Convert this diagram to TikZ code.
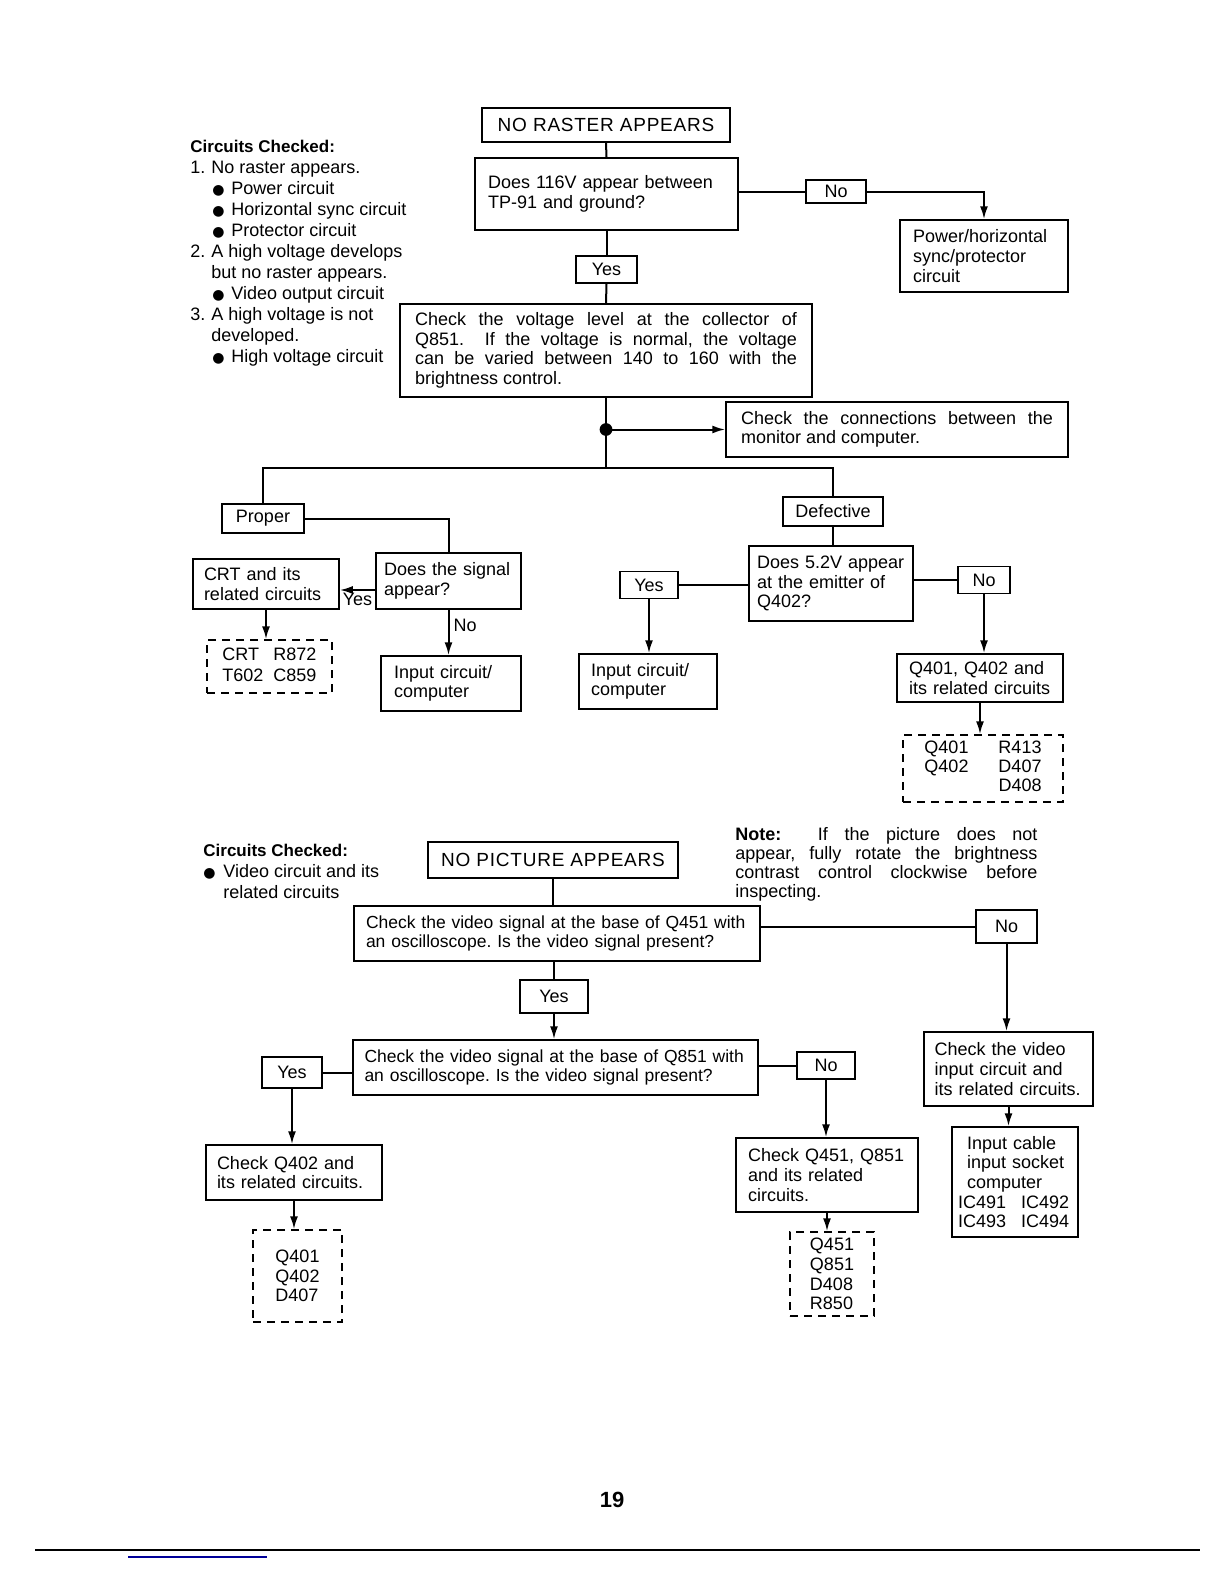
\documentclass[tikz,border=0pt]{standalone}
\usepackage{fontspec}
\setmainfont{Liberation Sans}
\newfontfamily\symfont{DejaVu Sans}
\usetikzlibrary{arrows.meta, calc}

\newcommand{\boxfont}{\fontsize{9}{9.8}\selectfont\frenchspacing\hyphenpenalty=10000\exhyphenpenalty=10000}
\newcommand{\smallboxfont}{\fontsize{8.75}{9.8}\selectfont\frenchspacing\hyphenpenalty=10000}
\newcommand{\headfont}{\fontsize{9.5}{11}\selectfont\addfontfeature{LetterSpace=4}}
\newcommand{\bulletmark}{{\symfont\fontsize{7}{7}\selectfont ●}}

\begin{document}
\begin{tikzpicture}[
    x=1pt, y=-1pt,
    box/.style={rectangle, draw, line width=0.75pt, inner xsep=6.5pt, inner ysep=2pt, align=left, font=\boxfont},
    tag/.style={rectangle, draw, line width=0.75pt, inner sep=0pt, font=\boxfont},
    headbox/.style={rectangle, draw, line width=0.75pt, inner sep=0pt, font=\headfont},
    parts/.style={rectangle, draw, dashed, dash pattern=on 4pt off 3pt, line width=0.7pt, inner sep=0pt, font=\boxfont},
    notes/.style={align=left, inner sep=0pt, font=\fontsize{9}{10.5}\selectfont},
    line/.style={draw, line width=1pt, -{Latex[length=6.5pt, width=4pt]}},
    wire/.style={draw, line width=1pt}
]
\useasboundingbox (0,0) rectangle (612,792);

% Circuits checked (no raster)
\node[notes, anchor=north west] (checked_raster) at (95,70) {%
{\bfseries\fontsize{8.5}{10.5}\selectfont Circuits Checked:}\\
\makebox[10.5pt][l]{1.}No raster appears.\\
\hspace*{11pt}\makebox[9.5pt][l]{\bulletmark}Power circuit\\
\hspace*{11pt}\makebox[9.5pt][l]{\bulletmark}Horizontal sync circuit\\
\hspace*{11pt}\makebox[9.5pt][l]{\bulletmark}Protector circuit\\
\makebox[10.5pt][l]{2.}A high voltage develops\\
\hspace*{10.5pt}but no raster appears.\\
\hspace*{11pt}\makebox[9.5pt][l]{\bulletmark}Video output circuit\\
\makebox[10.5pt][l]{3.}A high voltage is not\\
\hspace*{10.5pt}developed.\\
\hspace*{11pt}\makebox[9.5pt][l]{\bulletmark}High voltage circuit};

% Nodes for No Raster
\node[headbox, minimum width=124pt, minimum height=17pt] (no_raster) at (303,62.5) {NO RASTER APPEARS};
\node[box, text width=118.5pt, minimum height=36pt] (check_116v) at (303.25,97) {Does 116V appear between\\TP-91 and ground?};
\node[tag, minimum width=30pt, minimum height=11.5pt] (no_116v) at (418,95.75) {No};
\node[box, text width=71pt, minimum height=36pt] (power_ckt) at (492,128) {Power/horizontal\\sync/protector\\circuit};
\node[tag, minimum width=30.5pt, minimum height=13.5pt] (yes_116v) at (303.25,134.75) {Yes};
\node[box, inner xsep=7.5pt, text width=191pt, minimum height=46.5pt, align=justify] (check_q851) at (303,175.25) {Check the voltage level at the collector of\linebreak Q851.\ \ If the voltage is normal, the voltage\linebreak can be varied between 140 to 160 with the\linebreak brightness control.};
\node[box, inner xsep=7.5pt, text width=156pt, minimum height=27.5pt, align=justify] (check_conn) at (448.5,214.75) {Check the connections between the\linebreak monitor and computer.};
\coordinate (fork) at (303,234);

\node[tag, minimum width=41pt, minimum height=14.5pt] (proper) at (131.5,259.25) {Proper};
\node[box, inner xsep=4pt, text width=64.5pt, minimum height=28pt] (signal_q) at (224.25,290.5) {Does the signal\\appear?};
\node[box, inner xsep=5.5pt, text width=62pt, minimum height=25pt] (crt_ckt) at (133,292) {CRT and its\\related circuits};
\node[parts, minimum width=62.5pt, minimum height=26.5pt] (crt_parts) at (134.75,333.25) {\renewcommand{\arraystretch}{1.07}\begin{tabular}{@{}l@{\hspace{5pt}}l@{}}CRT & R872\\T602 & C859\end{tabular}};
\node[box, text width=57pt, minimum height=27.5pt] (input_a) at (225.5,341.75) {Input circuit/\\computer};

\node[tag, minimum width=50pt, minimum height=14.5pt] (defective) at (416.5,255.75) {Defective};
\node[box, inner xsep=4pt, text width=74pt, minimum height=37.5pt] (check_52v) at (415.5,291.75) {Does 5.2V appear\\at the emitter of\\Q402?};
\node[tag, minimum width=29pt, minimum height=13.5pt] (yes_52v) at (324.5,292.5) {Yes};
\node[box, inner xsep=6pt, text width=57pt, minimum height=27.5pt] (input_b) at (324,340.75) {Input circuit/\\computer};
\node[tag, minimum width=26pt, minimum height=13.5pt] (no_52v) at (492,290) {No};
\node[box, inner xsep=6pt, text width=71pt, minimum height=24pt] (q401_ckt) at (490,339) {Q401, Q402 and\\its related circuits};
\node[parts, minimum width=80pt, minimum height=33.5pt] (q401_parts) at (491.5,384.25) {\renewcommand{\arraystretch}{0.97}\begin{tabular}{@{}l@{\hspace{15pt}}l@{}}Q401 & R413\\Q402 & D407\\ & D408\end{tabular}};

% Main flow (no raster)
\path [wire] (no_raster.south) -- (check_116v.north);
\path [wire] (no_116v.west -| check_116v.east) -- (no_116v.west);
\path [line] (no_116v.east) -| (power_ckt.north);
\path [wire] (check_116v.south) -- (yes_116v.north);
\path [wire] (yes_116v.south) -- (check_q851.north);
\path [wire] (check_q851.south) -- (fork);
\fill (check_q851.south |- check_conn.west) coordinate (dot) circle (3.2pt);
\path [line] (dot) -- (check_conn.west);
\path [wire] (proper.north) |- (fork) -| (defective.north);
\path [wire] (proper.east) -| (signal_q.north);
\path [line] ([yshift=-4.5pt]signal_q.west) -- ([yshift=-4.5pt]signal_q.west -| crt_ckt.east) node[midway, below, inner sep=1pt, font=\boxfont] {Yes};
\path [line] (crt_ckt.south) -- (crt_ckt.south |- crt_parts.north);
\path [line] (signal_q.south) -- node[pos=0.35, right, inner sep=2pt, font=\boxfont] {No} (signal_q.south |- input_a.north);
\path [wire] (defective.south) -- (defective.south |- check_52v.north);
\path [wire] (yes_52v.east -| check_52v.west) -- (yes_52v.east);
\path [line] (yes_52v.south) -- (yes_52v.south |- input_b.north);
\path [wire] (no_52v.west -| check_52v.east) -- (no_52v.west);
\path [line] (no_52v.south) -- (no_52v.south |- q401_ckt.north);
\path [line] (q401_ckt.south) -- (q401_ckt.south |- q401_parts.north);

% Circuits checked (no picture)
\node[notes, anchor=north west] (checked_picture) at (101.5,422) {%
{\bfseries\fontsize{8.5}{10.5}\selectfont Circuits Checked:}\\
\makebox[10pt][l]{\bulletmark}Video circuit and its\\
\hspace*{10pt}related circuits};
\node[anchor=north west, inner sep=0pt, text width=151pt, align=justify, font=\fontsize{9}{9.5}\selectfont\frenchspacing] (note) at (367.5,413.5) {\textbf{Note:}\hspace{10pt} If the picture does not\linebreak appear, fully rotate the brightness\linebreak contrast control clockwise before\linebreak inspecting.};

% Nodes for No Picture
\node[headbox, minimum width=125pt, minimum height=18pt] (no_picture) at (276.5,430) {NO PICTURE APPEARS};
\node[box, font=\smallboxfont, inner xsep=6pt, text width=191pt, minimum height=27.5pt] (check_q451) at (278.5,466.75) {Check the video signal at the base of Q451 with\\an oscilloscope. Is the video signal present?};
\node[tag, minimum width=30.5pt, minimum height=16.5pt] (no_q451) at (503.25,463.25) {No};
\node[box, inner xsep=5.25pt, text width=74pt, minimum height=37pt] (video_input) at (504.25,534.5) {Check the video\\input circuit and\\its related circuits.};
\node[box, inner xsep=3pt, text width=57pt, minimum height=55pt] (cable_parts) at (507.5,591) {\hspace*{4.5pt}Input cable\\\hspace*{4.5pt}input socket\\\hspace*{4.5pt}computer\\IC491\hspace{7.5pt}IC492\\IC493\hspace{7.5pt}IC494};
\node[tag, minimum width=34pt, minimum height=16.5pt] (yes_q451) at (277,498.25) {Yes};
\node[box, font=\smallboxfont, inner xsep=5.75pt, text width=191pt, minimum height=27.5pt] (check_q851v) at (277.75,533.75) {Check the video signal at the base of Q851 with\\an oscilloscope. Is the video signal present?};
\node[tag, minimum width=30pt, minimum height=15.5pt] (yes_q851) at (146,536.25) {Yes};
\node[box, inner xsep=5.5pt, text width=77pt, minimum height=27.5pt] (check_q402) at (147,586.25) {Check Q402 and\\its related circuits.};
\node[parts, minimum width=44.5pt, minimum height=46pt, align=left] (q402_parts) at (148.75,638) {Q401\\Q402\\D407};
\node[tag, minimum width=29pt, minimum height=13.5pt] (no_q851) at (413,532.75) {No};
\node[box, inner xsep=6pt, text width=79pt, minimum height=37pt] (check_q451b) at (413.5,587.5) {Check Q451, Q851\\and its related\\circuits.};
\node[parts, minimum width=42pt, minimum height=42pt, align=left] (q451_parts) at (416,637) {Q451\\Q851\\D408\\R850};

% Main flow (no picture)
\path [wire] (no_picture.south) -- (no_picture.south |- check_q451.north);
\path [wire] (no_q451.west -| check_q451.east) -- (no_q451.west);
\path [line] (no_q451.south) -- (no_q451.south |- video_input.north);
\path [line] (video_input.south) -- (video_input.south |- cable_parts.north);
\path [wire] (yes_q451.north |- check_q451.south) -- (yes_q451.north);
\path [line] (yes_q451.south) -- (yes_q451.south |- check_q851v.north);
\path [wire] (yes_q851.east -| check_q851v.west) -- (yes_q851.east);
\path [line] (yes_q851.south) -- (yes_q851.south |- check_q402.north);
\path [line] (check_q402.south) -- (check_q402.south |- q402_parts.north);
\path [wire] (no_q851.west -| check_q851v.east) -- (no_q851.west);
\path [line] (no_q851.south) -- (no_q851.south |- check_q451b.north);
\path [line] (check_q451b.south) -- (check_q451b.south |- q451_parts.north);

% Page foot
\node[font=\bfseries\fontsize{11}{12}\selectfont] (page_no) at (306,750) {19};
\draw[line width=1.2pt] (17.5,775) -- (600,775);
\draw[blue!60!black, line width=0.6pt] (64,778.5) -- (133.5,778.5);

\end{tikzpicture}
\end{document}
